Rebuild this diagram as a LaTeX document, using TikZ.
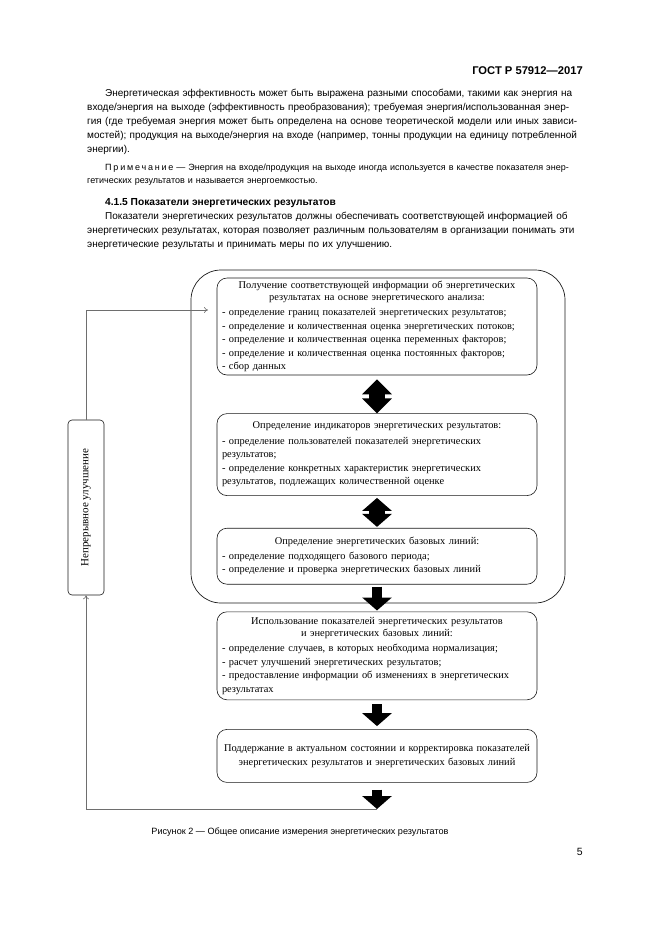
\documentclass[tikz,border=0pt]{standalone}
\usepackage{fontspec}
\usepackage{xcolor}
\usepackage{tikz}
\usetikzlibrary{arrows.meta,positioning}
\setmainfont{Liberation Sans}
\newfontfamily\diagserif{Liberation Serif}
\definecolor{gostline}{HTML}{1A1A1A}
\definecolor{gostgray}{HTML}{6E6E6E}
\newcommand{\jline}[2][496pt]{\makebox[#1][s]{#2}}
\tikzset{
  stage/.style={rounded corners=10pt, draw=gostline, line width=0.6pt, text width=310pt, inner xsep=5pt, inner ysep=2pt, font=\diagserif\fontsize{10.4}{13.5}\selectfont},
  frame/.style={rounded corners=30pt, draw=gostline, line width=0.7pt, minimum width=374pt, minimum height=333pt},
  loopbox/.style={rounded corners=4pt, draw=gostline, line width=0.6pt, minimum width=36pt, minimum height=175pt, inner sep=0pt, font=\diagserif\fontsize{11}{13}\selectfont},
  fatarrow/.style={line width=10pt, draw=black, -{Triangle[length=13pt,width=29pt]}},
  twoway/.style={line width=16pt, draw=black, {Triangle[length=#1,width=29pt]}-{Triangle[length=#1,width=29pt]}},
  twoway/.default=15pt,
  feedback/.style={draw=gostgray, line width=0.6pt, -{To[length=4pt,width=6pt]}},
  bodytext/.style={anchor=base west, text width=496pt, inner sep=0pt, align=left, font=\fontsize{10}{14}\selectfont},
  notetext/.style={anchor=base west, text width=496pt, inner sep=0pt, align=left, font=\fontsize{9}{13}\selectfont}
}

\begin{document}
\begin{tikzpicture}[x=1pt, y=-1pt]
  \useasboundingbox[fill=white] (0,0) rectangle (661,935);

  % page text
  \node[anchor=base east, inner sep=0pt, font=\bfseries\fontsize{11.2}{14}\selectfont] (header) at (583,74) {ГОСТ Р 57912—2017};
  \node[bodytext] (para1) at (87,96) {\hspace*{18pt}\jline[478pt]{Энергетическая эффективность может быть выражена разными способами, такими как энергия на}\\
    \jline{входе/энергия на выходе (эффективность преобразования); требуемая энергия/использованная энер-}\\
    \jline{гия (где требуемая энергия может быть определена на основе теоретической модели или иных зависи-}\\
    \jline{мостей); продукция на выходе/энергия на входе (например, тонны продукции на единицу потребленной}\\
    энергии).};
  \node[notetext] (note) at (87,170) {\hspace*{18pt}\jline[478pt]{{\addfontfeatures{LetterSpace=20}Примечание} — Энергия на входе/продукция на выходе иногда используется в качестве показателя энер-}\\
    гетических результатов и называется энергоемкостью.};
  \node[anchor=base west, inner sep=0pt, font=\bfseries\fontsize{10.2}{14}\selectfont] (heading) at (105,205) {4.1.5 Показатели энергетических результатов};
  \node[bodytext] (para2) at (87,219) {\hspace*{18pt}\jline[478pt]{Показатели энергетических результатов должны обеспечивать соответствующей информацией об}\\
    \jline{энергетических результатах, которая позволяет различным пользователям в организации понимать эти}\\
    энергетические результаты и принимать меры по их улучшению.};

  % stages
  \node[stage, minimum height=97pt] (getinfo) at (377,326.5) {{\centering Получение соответствующей информации об энергетических\\[-1.5pt]результатах на основе энергетического анализа:\par}\vspace{2pt}
    - определение границ показателей энергетических результатов;\\
    - определение и количественная оценка энергетических потоков;\\
    - определение и количественная оценка переменных факторов;\\
    - определение и количественная оценка постоянных факторов;\\
    - сбор данных};
  \node[stage, minimum height=82pt, below=38pt of getinfo] (indicators) {{\centering Определение индикаторов энергетических результатов:\par}\vspace{2pt}
    \jline[310pt]{- определение пользователей показателей энергетических}\\
    результатов;\\
    \jline[310pt]{- определение конкретных характеристик энергетических}\\
    результатов, подлежащих количественной оценке};
  \node[stage, minimum height=56pt, below=32pt of indicators] (baselines) {{\centering Определение энергетических базовых линий:\par}\vspace{1pt}
    - определение подходящего базового периода;\\
    - определение и проверка энергетических базовых линий};
  \node[stage, minimum height=88pt, below=27pt of baselines] (usage) {{\centering Использование показателей энергетических результатов\\[-1.5pt]и энергетических базовых линий:\par}\vspace{2pt}
    - определение случаев, в которых необходима нормализация;\\
    - расчет улучшений энергетических результатов;\\
    - предоставление информации об изменениях в энергетических\\
    результатах};
  \node[stage, minimum height=53pt, below=29pt of usage] (upkeep) {{\centering Поддержание в актуальном состоянии и корректировка показателей\\энергетических результатов и энергетических базовых линий\par}};

  \node[frame] (planning) at (378,436.5) {};
  \node[loopbox] (improve) at (86,507.5) {\rotatebox{90}{Непрерывное улучшение}};

  \coordinate (entry) at (208,310);
  \coordinate (tail) at (377,809);

  \draw[twoway, shorten <=4pt] (getinfo) -- (indicators);
  \draw[twoway=13pt, shorten <=2pt, shorten >=1pt] (indicators) -- (baselines);
  \draw[fatarrow, shorten <=2pt, shorten >=1pt] (baselines) -- (usage);
  \draw[fatarrow, shorten <=4pt, shorten >=3pt] (usage) -- (upkeep);
  \draw[fatarrow, shorten <=7pt] (upkeep) -- (tail);

  \draw[feedback] (tail) -| (improve);
  \draw[feedback] (improve) |- (entry);

  \node[anchor=base, inner sep=0pt, font=\fontsize{9.1}{13}\selectfont] (caption) at (300,834) {Рисунок 2 — Общее описание измерения энергетических результатов};
  \node[anchor=base east, inner sep=0pt, font=\fontsize{10.5}{13}\selectfont] (pagenum) at (583,855) {5};
\end{tikzpicture}
\end{document}
